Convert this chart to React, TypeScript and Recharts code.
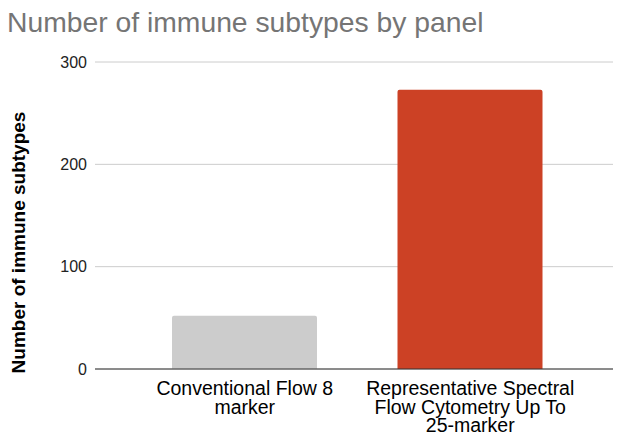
import React from 'react';
import { BarChart, Bar, XAxis, YAxis, CartesianGrid, Cell } from 'recharts';

const panels = ['Conventional Flow 8 marker', 'Representative Spectral Flow Cytometry Up To 25-marker'];
const subtypeCounts = [52, 273];
const panelColors = ['#cccccc', '#cc4125'];
const tickLabels = [
    ['Conventional Flow 8', 'marker'],
    ['Representative Spectral', 'Flow Cytometry Up To', '25-marker'],
];
const yTicks = [0, 100, 200, 300];
const yTitle = 'Number of immune subtypes';

const data = panels.map((name, i) => ({ name, count: subtypeCounts[i] }));

const FONT = '"Liberation Sans", Arial, sans-serif';

// category labels are drawn on pre-split lines, centred under each bar
function PanelTick(props: any) {
    const { x, y, index } = props;
    const lines = tickLabels[index] || [];
    return (
        <text x={x} y={y} textAnchor="middle" fontFamily={FONT} fontSize={19.5} fill="#000">
            {lines.map((line, i) => (
                <tspan key={i} x={x} dy={i === 0 ? 18 : 18.5}>{line}</tspan>
            ))}
        </text>
    );
}

// axis title sits a bit below the plot's middle, like the sheets export
function YTitle(props: any) {
    const { viewBox } = props;
    const cx = viewBox.x + 25;
    const cy = viewBox.y + viewBox.height / 2 + 27;
    return (
        <text
            x={cx}
            y={cy}
            transform={`rotate(-90, ${cx}, ${cy})`}
            textAnchor="middle"
            fontFamily={FONT}
            fontSize={19}
            fontWeight="bold"
            fill="#000"
        >
            {yTitle}
        </text>
    );
}

function App() {
    return (
        <div style={{ position: 'absolute', left: 0, top: 0, width: 622, height: 436, background: '#fff' }}>
            <div
                style={{
                    position: 'absolute', left: 7, top: 5,
                    fontFamily: FONT, fontSize: 28.3, color: '#757575', lineHeight: '34px',
                }}
            >
                Number of immune subtypes by panel
            </div>
            <BarChart
                width={622}
                height={436}
                data={data}
                margin={{ top: 62, right: 9, bottom: 0, left: 0 }}
                barSize={145}
            >
                <CartesianGrid vertical={false} stroke="#cccccc" />
                <XAxis
                    dataKey="name"
                    height={67}
                    interval={0}
                    padding={{ left: 37, right: 30 }}
                    axisLine={{ stroke: '#333333' }}
                    tickLine={false}
                    tick={<PanelTick />}
                />
                <YAxis
                    width={95}
                    domain={[0, 300]}
                    ticks={yTicks}
                    axisLine={false}
                    tickLine={false}
                    tick={{ fontFamily: FONT, fontSize: 16, fill: '#222' }}
                    label={<YTitle />}
                />
                <Bar dataKey="count" isAnimationActive={false} radius={[2, 2, 0, 0]}>
                    {data.map((d, i) => (
                        <Cell key={d.name} fill={panelColors[i]} />
                    ))}
                </Bar>
            </BarChart>
        </div>
    );
}

export default App;
